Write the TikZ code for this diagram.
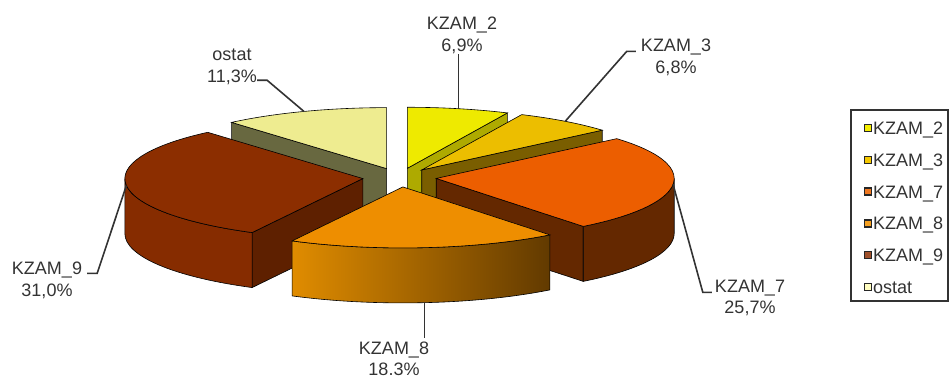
\documentclass[tikz,border=0pt]{standalone}
\usepackage{fontspec}
\setmainfont{Liberation Sans}
\usetikzlibrary{calc}

\definecolor{c2top}{HTML}{EEEA00}
\definecolor{c2side}{HTML}{AEAA00}
\definecolor{c3top}{HTML}{ECBE00}
\definecolor{c3side}{HTML}{7A5E00}
\definecolor{c7top}{HTML}{EC5E00}
\definecolor{c7side}{HTML}{642800}
\definecolor{c8top}{HTML}{EE8E00}
\definecolor{c8left}{HTML}{E08C00}
\definecolor{c8right}{HTML}{623A00}
\definecolor{c9top}{HTML}{8C2E00}
\definecolor{c9side}{HTML}{862C00}
\definecolor{c9wall}{HTML}{5E2000}
\definecolor{cotop}{HTML}{EEEC90}
\definecolor{coside}{HTML}{686840}
\definecolor{k2}{HTML}{F5EE00}
\definecolor{k3}{HTML}{F5C800}
\definecolor{k7}{HTML}{F07820}
\definecolor{k8}{HTML}{F5A020}
\definecolor{k9}{HTML}{A0502A}
\definecolor{ko}{HTML}{FFFDC0}

\def\rx{238}
\def\ry{61}
\def\dep{55}

% top of a slice: apex, from, to, colour
\newcommand\pietop[4]{\filldraw[rim, fill=#4] (#1) -- ++({\rx*sin(#2)},{\ry*cos(#2)})
  arc[start angle={90-#2}, end angle={90-#3}, x radius=\rx, y radius=\ry] -- cycle;}
% flat wall of a slice: apex, angle, colour
\newcommand\piewall[3]{\filldraw[rim, fill=#3] (#1) -- ++({\rx*sin(#2)},{\ry*cos(#2)})
  -- ++(0,-\dep) -- ++({-\rx*sin(#2)},{-\ry*cos(#2)}) -- cycle;}
% round side of a slice: style, apex, from, to
\newcommand\pieside[4]{\path[rim, #1] ($(#2)+({\rx*sin(#3)},{\ry*cos(#3)})$)
  arc[start angle={90-#3}, end angle={90-#4}, x radius=\rx, y radius=\ry] -- ++(0,-\dep)
  arc[start angle={90-#4}, end angle={90-#3}, x radius=\rx, y radius=\ry] -- cycle;}

\tikzset{
  rim/.style={draw=black, line width=0.6pt},
  lead/.style={draw=black!80, line width=1.6pt},
  lbl/.style={font=\fontsize{18}{21.5}\selectfont, text=black!80, align=center, inner sep=0pt},
  key/.style={draw=black!85, line width=1.3pt, minimum size=7pt, inner sep=0pt},
  keytext/.style={font=\fontsize{18}{21.5}\selectfont, text=black!80, anchor=base west, inner sep=0pt}
}

\begin{document}
\begin{tikzpicture}[x=1pt, y=1pt]
\useasboundingbox (0,0) rectangle (951,-378);
\coordinate (c) at (399.5,-177.5);
\foreach \n/\m in {2/12.42, 3/37.08, 7/95.58, 8/174.78, 9/263.52, o/339.66}
  \coordinate (a\n) at ($(c)+({0.155*\rx*sin(\m)},{0.155*\ry*cos(\m)})$);

% ostat
\piewall{ao}{319.32}{coside}
\pietop{ao}{319.32}{360}{cotop}
% KZAM_2
\piewall{a2}{24.84}{c2side}
\pietop{a2}{0}{24.84}{c2top}
% KZAM_3
\piewall{a3}{49.32}{c3side}
\pietop{a3}{24.84}{49.32}{c3top}
% KZAM_9
\piewall{a9}{207.72}{c9wall}
\pieside{fill=c9side}{a9}{207.72}{270}
\pietop{a9}{207.72}{319.32}{c9top}
% KZAM_7
\piewall{a7}{141.84}{c7side}
\pieside{fill=c7side}{a7}{90}{141.84}
\pietop{a7}{49.32}{141.84}{c7top}
% KZAM_8
\pieside{left color=c8left, right color=c8right}{a8}{141.84}{207.72}
\pietop{a8}{141.84}{207.72}{c8top}

% labels
\coordinate (p2) at ($(a2)+({\rx*sin(12.42)},{\ry*cos(12.42)})$);
\coordinate (p3) at ($(a3)+({\rx*sin(37.08)},{\ry*cos(37.08)})$);
\coordinate (p7) at ($(a7)+({\rx*sin(95.58)},{\ry*cos(95.58)})$);
\coordinate (p8) at ($(a8)+({\rx*sin(174.78)},{\ry*cos(174.78)-\dep})$);
\coordinate (p9) at ($(a9)+({\rx*sin(263.52)},{\ry*cos(263.52)})$);
\coordinate (po) at ($(ao)+({\rx*sin(339.66)},{\ry*cos(339.66)})$);

\node[lbl] (l2) at (462,-35.5) {KZAM\_2\\6,9\%};
\node[lbl] (l3) at (676,-57.3) {KZAM\_3\\6,8\%};
\node[lbl] (l7) at (750,-297.8) {KZAM\_7\\25,7\%};
\node[lbl] (l8) at (394,-359) {KZAM\_8\\18.3\%};
\node[lbl] (l9) at (47,-280.3) {KZAM\_9\\31,0\%};
\node[lbl] (lo) at (232,-66.7) {ostat\\11,3\%};

\draw[lead] (p2) -- (p2 |- l2.south);
\draw[lead] (p3) -- ([xshift=-14pt,yshift=6pt]l3.west) -- ([xshift=-5pt,yshift=6pt]l3.west);
\draw[lead] (p7) -- ([xshift=-12pt,yshift=5.5pt]l7.west) -- ([xshift=-3pt,yshift=5.5pt]l7.west);
\draw[lead] (p8) -- ++(0,-35);
\draw[lead] (p9) -- ([xshift=15pt,yshift=7pt]l9.east) -- ([xshift=5pt,yshift=7pt]l9.east);
\draw[lead] (po) -- ([xshift=10pt,yshift=-13.5pt]lo.east) -- ([yshift=-13.5pt]lo.east);

% legend
\draw[black!80, line width=1.3pt] (851,-110) rectangle (948,-301);
\foreach \c/\t [count=\i from 0] in {k2/KZAM\_2, k3/KZAM\_3, k7/KZAM\_7, k8/KZAM\_8, k9/KZAM\_9, ko/ostat} {
  \node[key, fill=\c] (key\i) at (868,{-128-31.8*\i}) {};
  \node[keytext] (kt\i) at (873,{-134.5-31.8*\i}) {\t};
}
\end{tikzpicture}
\end{document}
